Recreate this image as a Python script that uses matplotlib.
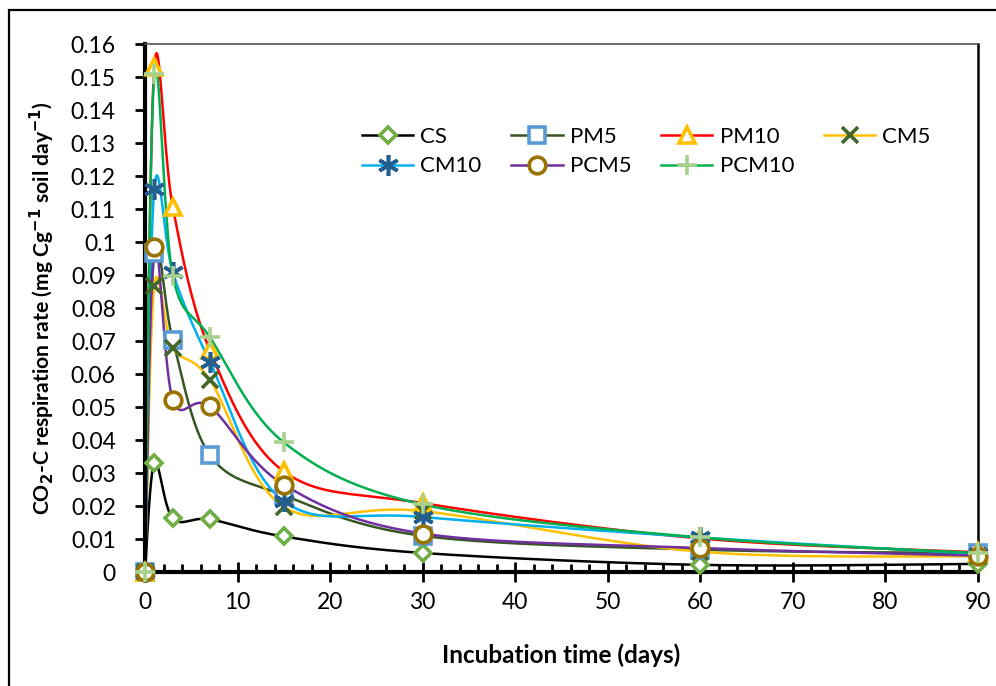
import numpy as np
import matplotlib
matplotlib.use('Agg')
import matplotlib.pyplot as plt
from matplotlib.patches import Rectangle
from matplotlib.ticker import MultipleLocator, FuncFormatter

plt.rcParams['font.family'] = ['Lato', 'DejaVu Sans']

# incubation days
days = [0, 1, 3, 7, 15, 30, 60, 90]

cs = [0, 0.033, 0.0163, 0.016, 0.0108, 0.0058, 0.0022, 0.0025]
pm5 = [0, 0.0967, 0.0703, 0.0355, 0.0233, 0.011, 0.0068, 0.0058]
pm10 = [0, 0.153, 0.1106, 0.0673, 0.0305, 0.0209, 0.0102, 0.006]
cm5 = [0, 0.0866, 0.068, 0.0583, 0.0198, 0.0185, 0.0062, 0.0048]
cm10 = [0, 0.1162, 0.0909, 0.0638, 0.0215, 0.0167, 0.0105, 0.0055]
pcm5 = [0, 0.0985, 0.0523, 0.0502, 0.0265, 0.0117, 0.0073, 0.005]
pcm10 = [0, 0.1508, 0.0898, 0.0712, 0.0393, 0.0205, 0.0105, 0.0058]

names = ['CS', 'PM5', 'PM10', 'CM5', 'CM10', 'PCM5', 'PCM10']
series = [cs, pm5, pm10, cm5, cm10, pcm5, pcm10]

# (line colour, marker, marker size, marker colour, open marker?)
styles = [
    ('black', 'D', 8.5, '#70AD47', True),
    ('#375623', 's', 11, '#5B9BD5', True),
    ('#FF0000', '^', 12, '#FFC000', True),
    ('#FFC000', 'x', 11, '#43682B', False),
    ('#00B0F0', (6, 2, 0), 15, '#255E91', False),
    ('#7030A0', 'o', 12, '#997300', True),
    ('#00B050', '+', 14, '#A9D18E', False),
]


def smooth(x, y, n=40):
    # Excel-like smoothed line (Catmull-Rom style bezier)
    x = np.asarray(x, float)
    y = np.asarray(y, float)
    px = np.concatenate([[x[0]], x, [x[-1]]])
    py = np.concatenate([[y[0]], y, [y[-1]]])
    t = np.linspace(0, 1, n)[:, None]
    xs, ys = [], []
    for i in range(1, len(px) - 2):
        p0 = np.array([px[i], py[i]])
        p3 = np.array([px[i + 1], py[i + 1]])
        c1 = p0 + (np.array([px[i + 1], py[i + 1]]) - np.array([px[i - 1], py[i - 1]])) / 6
        c2 = p3 - (np.array([px[i + 2], py[i + 2]]) - np.array([px[i], py[i]])) / 6
        b = ((1 - t) ** 3 * p0 + 3 * (1 - t) ** 2 * t * c1
             + 3 * (1 - t) * t ** 2 * c2 + t ** 3 * p3)
        xs.append(b[:, 0])
        ys.append(b[:, 1])
    return np.concatenate(xs), np.concatenate(ys)


fig = plt.figure(figsize=(9.96, 6.86), dpi=100)
ax = fig.add_axes([0.1456, 0.166, 0.8363, 0.7697])

# chart area frame
fig.patches.append(Rectangle((9 / 996, -0.1), 1.2, (686 - 10) / 686 + 0.1,
                             transform=fig.transFigure, fill=False,
                             edgecolor='black', linewidth=1.6))

handles = []
for name, vals, (lc, mk, ms, mc, hollow) in zip(names, series, styles):
    sx, sy = smooth(days, vals)
    ax.plot(sx, sy, color=lc, lw=1.8, zorder=2)
    kw = dict(marker=mk, ms=ms, mew=2.6, mec=mc,
              mfc=('white' if hollow else mc))
    ax.plot(days, vals, ls='none', zorder=3, clip_on=False, **kw)
    h, = ax.plot([], [], color=lc, lw=1.8, **kw)
    handles.append(h)

order = [0, 4, 1, 5, 2, 6, 3]
ax.legend([handles[i] for i in order], [names[i] for i in order],
          ncol=4, loc='upper left', bbox_to_anchor=(0.2605, 0.843),
          frameon=False, fontsize=16, handlelength=2.3, columnspacing=1.35,
          labelspacing=0.42, handletextpad=0.32, borderaxespad=0, borderpad=0)

ax.set_xlim(0, 90)
ax.set_ylim(0, 0.16)
ax.xaxis.set_major_locator(MultipleLocator(10))
ax.xaxis.set_minor_locator(MultipleLocator(2))
ax.yaxis.set_major_locator(MultipleLocator(0.01))
ax.yaxis.set_major_formatter(FuncFormatter(lambda v, p: ('%.2f' % v).rstrip('0').rstrip('.')))

ax.tick_params(axis='x', which='major', direction='inout', length=14, width=2,
               labelsize=16.5, pad=7)
ax.tick_params(axis='x', which='minor', direction='in', length=6, width=2)
ax.tick_params(axis='y', which='major', direction='out', length=7, width=2,
               labelsize=16.5, pad=14)

for s in ['left', 'bottom']:
    ax.spines[s].set_linewidth(3)
ax.spines['top'].set_linewidth(1.2)
ax.spines['top'].set_color('#555555')
ax.spines['right'].set_linewidth(1.8)

ax.set_xlabel('Incubation time (days)', fontsize=17.5, fontweight='bold', labelpad=22)
ax.set_ylabel('CO$_\\mathbf{2}$-C respiration rate (mg Cg$^{\\mathbf{-1}}$ soil day$^{\\mathbf{-1}}$)',
              fontsize=15.2, fontweight='bold', labelpad=10)

fig.savefig('out.png', dpi=100)
